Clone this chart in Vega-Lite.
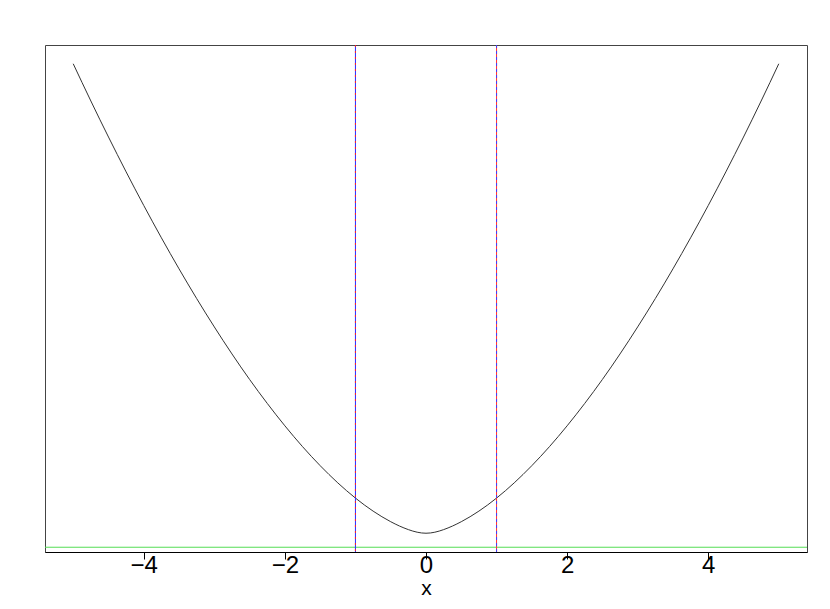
{
  "$schema": "https://vega.github.io/schema/vega-lite/v6.json",
  "width": 762,
  "height": 507,
  "autosize": {"type": "none"},
  "padding": {"left": 45, "top": 45, "right": 23, "bottom": 57},
  "background": "white",
  "config": {
    "view": {"stroke": "#444", "strokeWidth": 1},
    "font": "Liberation Sans"
  },
  "datasets": {
    "curve": [
      {"x": -5, "y": 4.83}, {"x": -4.75, "y": 4.458}, {"x": -4.5, "y": 4.098}, {"x": -4.25, "y": 3.75},
      {"x": -4, "y": 3.414}, {"x": -3.75, "y": 3.091}, {"x": -3.5, "y": 2.781}, {"x": -3.25, "y": 2.484},
      {"x": -3, "y": 2.201}, {"x": -2.75, "y": 1.931}, {"x": -2.5, "y": 1.676}, {"x": -2.25, "y": 1.437},
      {"x": -2, "y": 1.213}, {"x": -1.75, "y": 1.005}, {"x": -1.5, "y": 0.815}, {"x": -1.25, "y": 0.643},
      {"x": -1, "y": 0.491}, {"x": -0.75, "y": 0.361}, {"x": -0.5, "y": 0.255}, {"x": -0.25, "y": 0.176},
      {"x": 0, "y": 0.14},
      {"x": 0.25, "y": 0.176}, {"x": 0.5, "y": 0.255}, {"x": 0.75, "y": 0.361}, {"x": 1, "y": 0.491},
      {"x": 1.25, "y": 0.643}, {"x": 1.5, "y": 0.815}, {"x": 1.75, "y": 1.005}, {"x": 2, "y": 1.213},
      {"x": 2.25, "y": 1.437}, {"x": 2.5, "y": 1.676}, {"x": 2.75, "y": 1.931}, {"x": 3, "y": 2.201},
      {"x": 3.25, "y": 2.484}, {"x": 3.5, "y": 2.781}, {"x": 3.75, "y": 3.091}, {"x": 4, "y": 3.414},
      {"x": 4.25, "y": 3.75}, {"x": 4.5, "y": 4.098}, {"x": 4.75, "y": 4.458}, {"x": 5, "y": 4.83}
    ],
    "hline": [{"y": 0}],
    "vlines": [{"x": -1}, {"x": 1}]
  },
  "layer": [
    {
      "data": {"name": "hline"},
      "mark": {"type": "rule", "color": "#55dd55", "strokeWidth": 1},
      "encoding": {
        "y": {"field": "y", "type": "quantitative", "axis": null}
      }
    },
    {
      "data": {"name": "curve"},
      "mark": {"type": "line", "color": "#333333", "strokeWidth": 1, "interpolate": "natural"},
      "encoding": {
        "x": {
          "field": "x", "type": "quantitative",
          "scale": {"domain": [-5.4, 5.4], "nice": false, "zero": false},
          "axis": {
            "values": [-4, -2, 0, 2, 4],
            "format": "d",
            "title": "x",
            "grid": false,
            "domainColor": "black",
            "domainWidth": 1,
            "tickColor": "black",
            "tickSize": 7,
            "labelPadding": -6,
            "labelFontSize": 24,
            "labelColor": "black",
            "labelFont": "Liberation Sans",
            "titleFont": "Liberation Sans",
            "titleFontSize": 21,
            "titleFontWeight": "normal",
            "titleColor": "black",
            "titleBaseline": "alphabetic",
            "titleY": 42
          }
        },
        "y": {
          "field": "y", "type": "quantitative",
          "scale": {"domain": [-0.0476, 5.0176], "nice": false, "zero": false},
          "axis": null
        }
      }
    },
    {
      "data": {"name": "vlines"},
      "transform": [{"filter": "datum.x < 0"}],
      "mark": {"type": "rule", "color": "#2a2aff", "strokeWidth": 1},
      "encoding": {"x": {"field": "x", "type": "quantitative"}}
    },
    {
      "data": {"name": "vlines"},
      "transform": [{"filter": "datum.x < 0"}],
      "mark": {"type": "rule", "color": "#ff2020", "strokeWidth": 1, "strokeDash": [2, 4]},
      "encoding": {"x": {"field": "x", "type": "quantitative"}}
    },
    {
      "data": {"name": "vlines"},
      "transform": [{"filter": "datum.x > 0"}],
      "mark": {"type": "rule", "color": "#ff3030", "strokeWidth": 1},
      "encoding": {"x": {"field": "x", "type": "quantitative"}}
    },
    {
      "data": {"name": "vlines"},
      "transform": [{"filter": "datum.x > 0"}],
      "mark": {"type": "rule", "color": "#4040ff", "strokeWidth": 1, "strokeDash": [3, 3]},
      "encoding": {"x": {"field": "x", "type": "quantitative"}}
    }
  ]
}
